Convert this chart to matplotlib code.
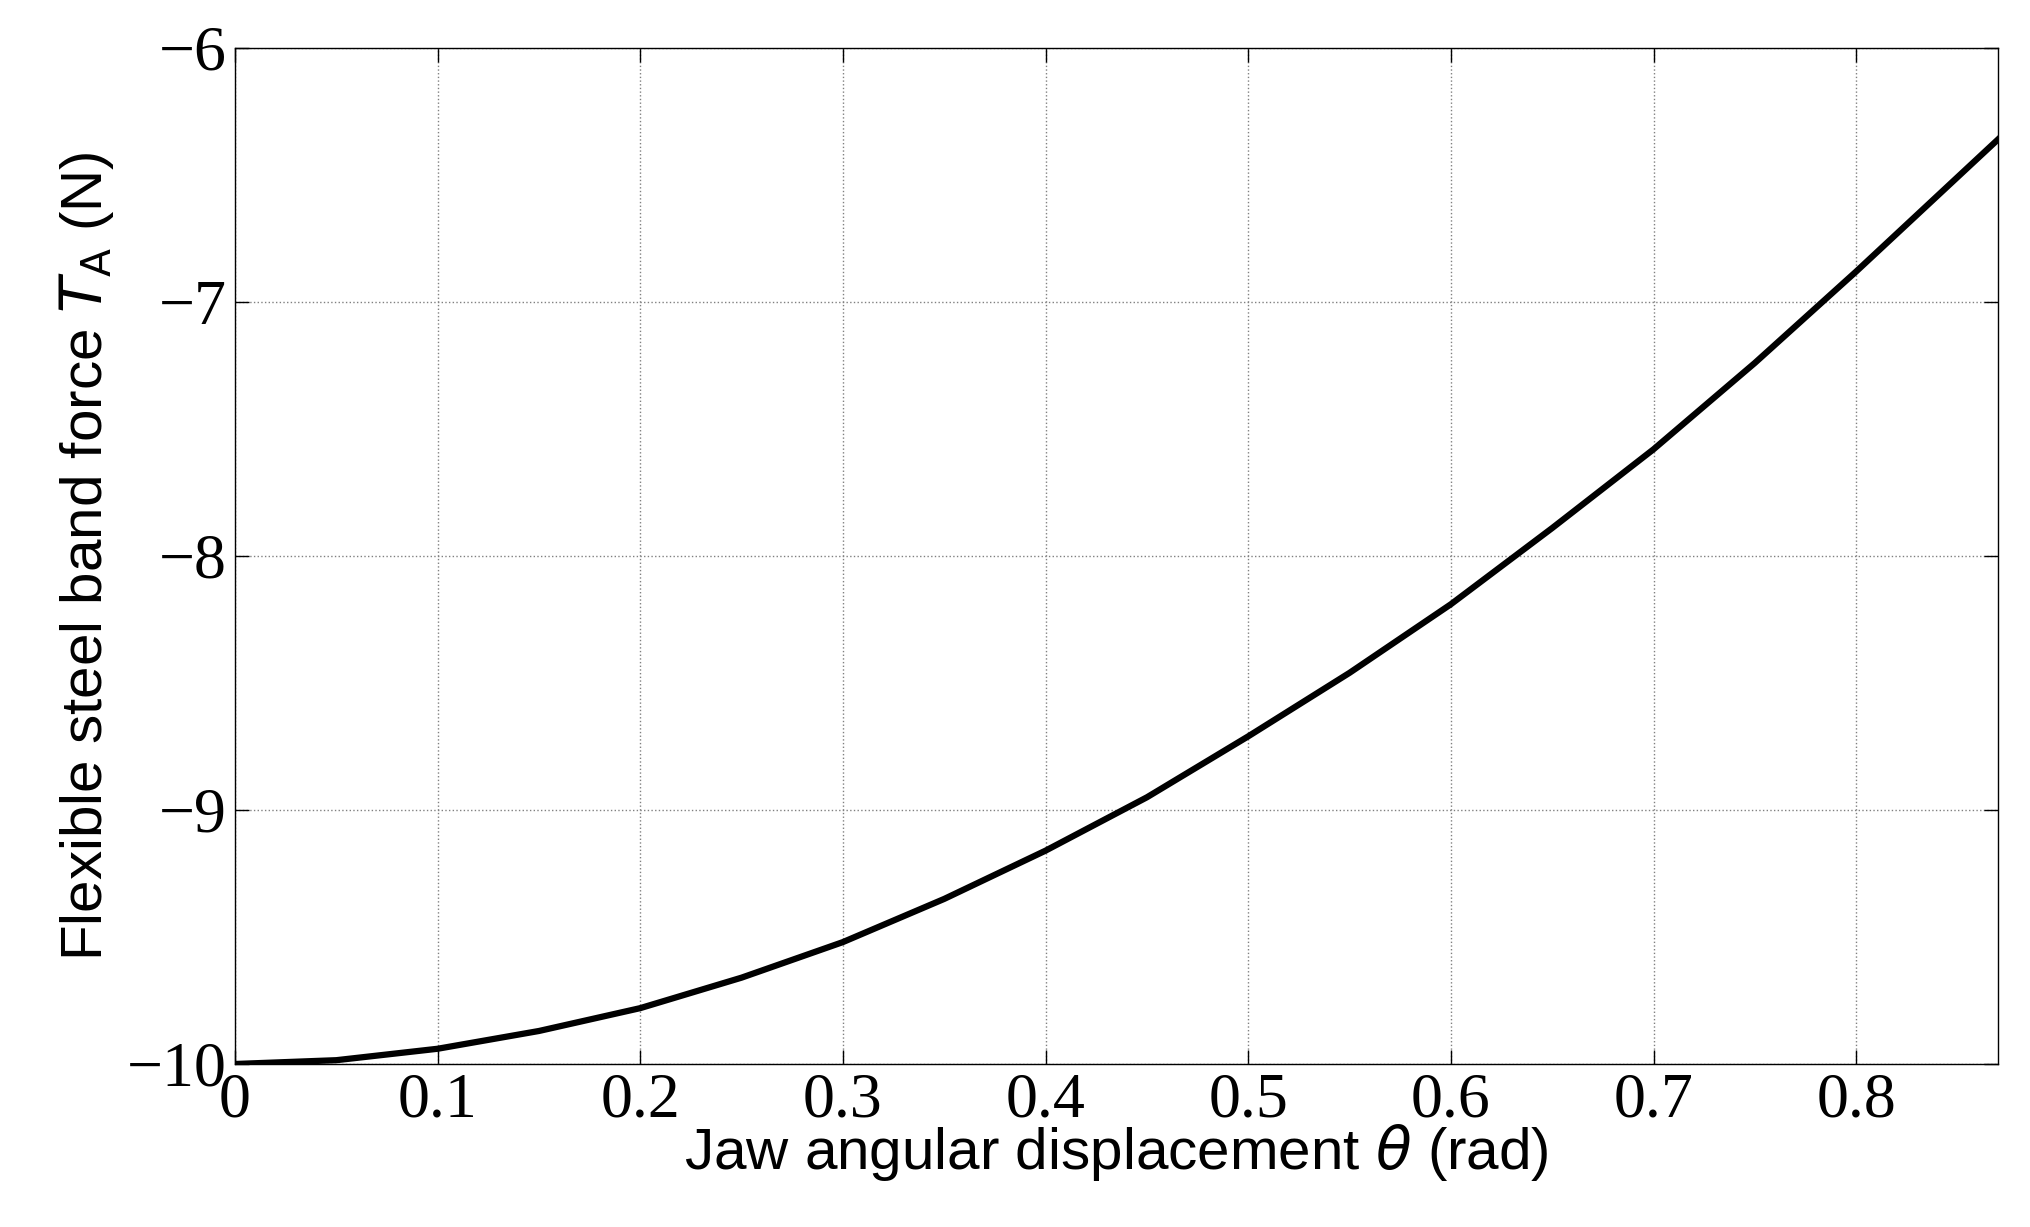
import matplotlib
matplotlib.use("Agg")
import matplotlib.pyplot as plt

theta = [0, 0.05, 0.1, 0.15, 0.2, 0.25, 0.3, 0.35, 0.4, 0.45, 0.5, 0.55, 0.6, 0.65, 0.7, 0.75, 0.8, 0.87]
force = [-10, -9.985, -9.94, -9.87, -9.78, -9.66, -9.52, -9.35, -9.16, -8.95, -8.71, -8.46, -8.19, -7.89, -7.58, -7.24, -6.88, -6.36]
xticks = [0, 0.1, 0.2, 0.3, 0.4, 0.5, 0.6, 0.7, 0.8]
yticks = [-10, -9, -8, -7, -6]

fig = plt.figure(figsize=(20.3, 12.27), dpi=100)
ax = fig.add_axes([235/2030, 1 - 1064/1227, (1998-235)/2030, (1064-48)/1227])
ax.plot(theta, force, color="black", lw=4.5, solid_joinstyle="round")
ax.set_xlim(0, 0.87)
ax.set_ylim(-10, -6)
ax.set_xticks(xticks)
ax.set_xticklabels([f"{t:g}" for t in xticks])
ax.set_yticks(yticks)
ax.set_yticklabels([f"\u2212{abs(t)}" for t in yticks])
for lab in ax.get_xticklabels() + ax.get_yticklabels():
    lab.set_fontfamily("Liberation Serif")
    lab.set_fontsize(46)
ax.tick_params(direction="in", length=10, width=1, top=True, right=True, pad=6)
ax.grid(True, linestyle=":", color="gray", lw=1)
for s in ax.spines.values():
    s.set_linewidth(1)
ax.set_xlabel(r"Jaw angular displacement $\theta$ (rad)", fontfamily="Liberation Sans", fontsize=42, labelpad=-6)
ax.set_ylabel(r"Flexible steel band force $T_{\mathrm{A}}$ (N)", fontfamily="Liberation Sans", fontsize=42, labelpad=8)
fig.savefig("out.png", dpi=100)
